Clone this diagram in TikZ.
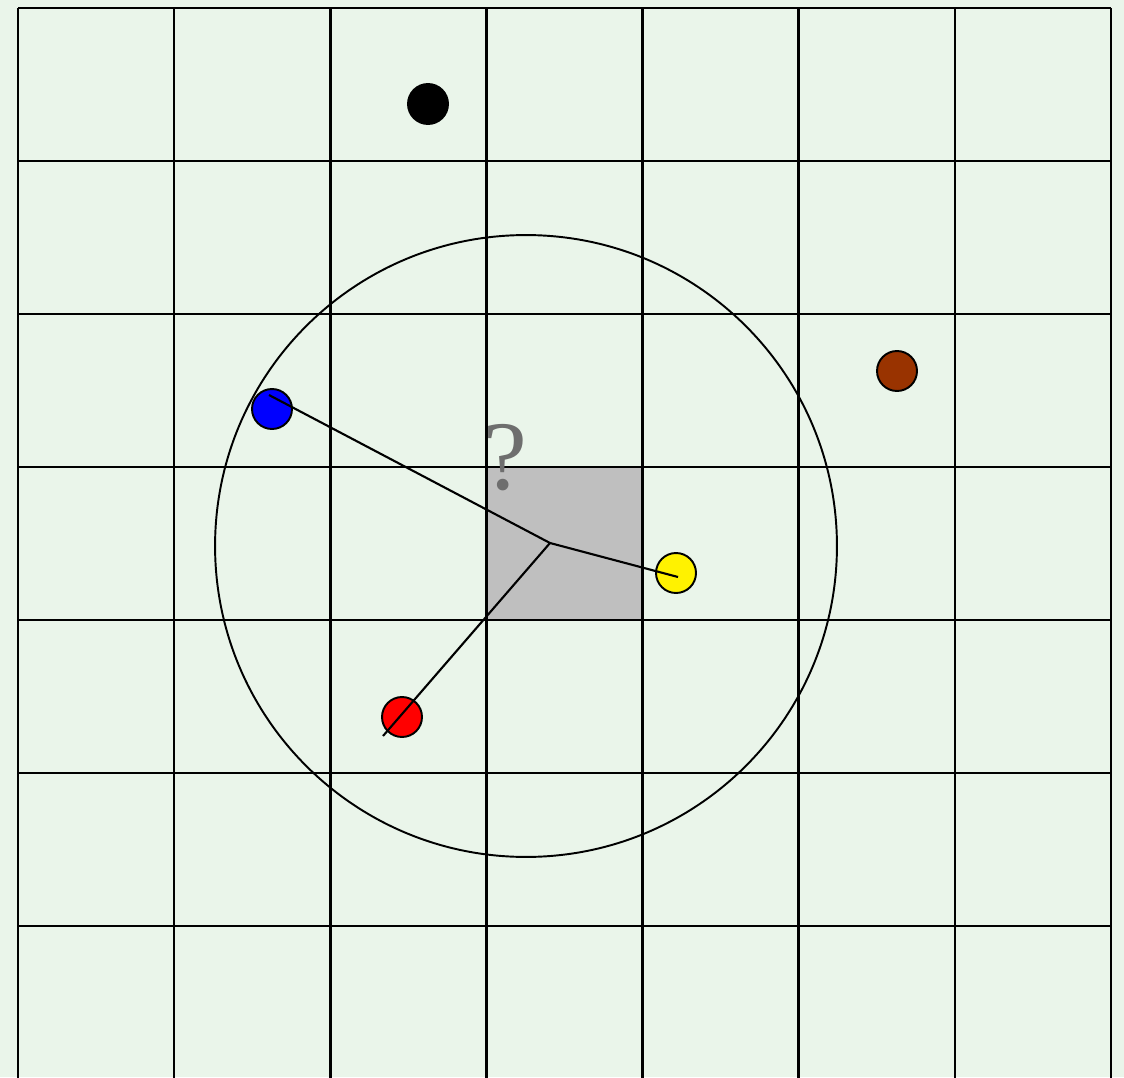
\documentclass[tikz,border=0pt]{standalone}
\usepackage{fontspec}
\usepackage{tikz}
\usetikzlibrary{positioning}
\newfontfamily\qmfont{Liberation Serif}
\definecolor{bggreen}{RGB}{234,245,234}
\definecolor{rust}{RGB}{153,51,0}

\begin{document}
\begin{tikzpicture}[
    x=0.02cm, y=-0.02cm,
    gridline/.style={draw=black, line width=1.4pt},
    dot/.style={circle, draw=black, line width=1.1pt, minimum size=0.8cm, inner sep=0pt},
    reach/.style={circle, draw=black, line width=1.1pt, minimum size=12.44cm, inner sep=0pt},
    link/.style={draw=black, line width=1.2pt}
]
% background
\fill[bggreen] (0,0) rectangle (1124,1077);
\useasboundingbox (0,0) rectangle (1124,1077);
% unknown cell
\fill[black!25] (487,467) rectangle (643,620);
% grid
\foreach \i in {0,...,7}{\draw[gridline] ({18+156.14*\i},8) -- ({18+156.14*\i},1079);}
\foreach \j in {0,...,7}{\draw[gridline] (18,{8+153*\j}) -- (1111,{8+153*\j});}
% question mark
\node[text=black!57, font=\qmfont\fontsize{56}{56}\selectfont, inner sep=0pt] (qm) at (505,458) {?};
% search circle
\node[reach] (range) at (526,546) {};
% points
\node[dot, fill=black] (pblack) at (428,104) {};
\node[dot, fill=rust] (pbrown) at (897,371) {};
\node[dot, fill=blue] (pblue) at (272,409) {};
\node[dot, fill=yellow] (pyellow) at (676,573) {};
\node[dot, fill=red] (pred) at (402,717) {};
% links
\coordinate (mid) at (550,543);
\coordinate (bend) at (269,395);
\coordinate (yend) at (678,577);
\coordinate (rend) at (383,736);
\draw[link] (mid) -- (bend);
\draw[link] (mid) -- (yend);
\draw[link] (mid) -- (rend);
\end{tikzpicture}
\end{document}
